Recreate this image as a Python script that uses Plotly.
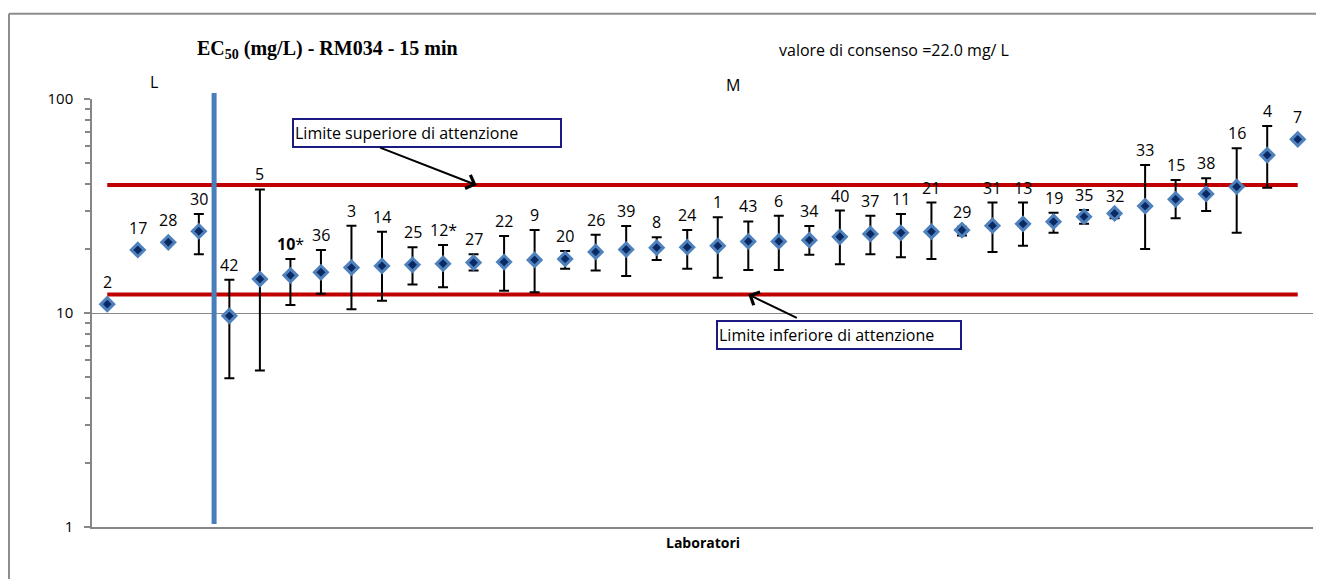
import math
import plotly.graph_objects as go

# ---- data ----
lab_ids = ["2", "17", "28", "30", "42", "5", "10*", "36", "3", "14", "25", "12*", "27", "22", "9",
           "20", "26", "39", "8", "24", "1", "43", "6", "34", "40", "37", "11", "21", "29", "31",
           "13", "19", "35", "32", "33", "15", "38", "16", "4", "7"]
ec50 = [11.0, 19.7, 21.4, 24.1, 9.7, 14.4, 15.0, 15.5, 16.3, 16.6, 16.8, 17.0, 17.2, 17.3, 17.7,
        17.9, 19.3, 19.8, 20.2, 20.3, 20.6, 21.6, 21.6, 21.9, 22.7, 23.4, 23.7, 24.0, 24.4, 25.6,
        26.1, 26.7, 28.2, 29.2, 31.6, 34.0, 36.0, 38.9, 54.7, 64.8]
upper_bound = [11.0, 19.7, 21.4, 29.0, 14.3, 37.8, 17.9, 19.7, 25.6, 24.0, 20.3, 20.8, 18.8, 22.9, 24.4,
               19.5, 23.2, 25.5, 22.6, 24.4, 28.0, 26.8, 28.5, 25.5, 30.1, 28.5, 29.0, 32.8, 25.3, 32.8,
               32.8, 29.4, 30.3, 30.0, 49.2, 41.8, 42.6, 58.8, 74.8, 64.8]
lower_bound = [11.0, 19.7, 21.4, 18.8, 4.95, 5.38, 10.9, 12.3, 10.4, 11.4, 13.6, 13.2, 15.8, 12.7, 12.5,
               16.1, 15.8, 14.9, 17.7, 16.1, 14.6, 15.9, 15.9, 18.7, 16.9, 18.8, 18.2, 17.9, 23.0, 19.3,
               20.6, 23.7, 26.1, 27.7, 19.9, 27.7, 30.0, 23.7, 38.5, 64.8]
n_group_L = 4          # labs in group L (the rest are group M)
consensus = 22.0
limit_upper = 39.6
limit_lower = 12.2

FONT = "Open Sans"
n = len(lab_ids)
xs = list(range(n))
err_plus = [u - v for u, v in zip(upper_bound, ec50)]
err_minus = [v - l for v, l in zip(ec50, lower_bound)]

fig = go.Figure()

# limit lines
fig.add_trace(go.Scatter(x=[xs[0], xs[-1]], y=[limit_upper, limit_upper], mode="lines",
                         line=dict(color="#c00000", width=4), hoverinfo="skip", showlegend=False))
fig.add_trace(go.Scatter(x=[xs[0], xs[-1]], y=[limit_lower, limit_lower], mode="lines",
                         line=dict(color="#c00000", width=4), hoverinfo="skip", showlegend=False))

# points with error bars
fig.add_trace(go.Scatter(
    x=xs, y=ec50, mode="markers",
    marker=dict(symbol="diamond", size=10, color="#0b2a63", line=dict(color="#4f81bd", width=3)),
    error_y=dict(type="data", symmetric=False, array=err_plus, arrayminus=err_minus,
                 color="black", thickness=2, width=5),
    showlegend=False,
))

annotations = []
for i, lab in enumerate(lab_ids):
    has_bar = err_plus[i] > 0.01
    txt = "<b>10</b>*" if lab == "10*" else lab
    annotations.append(dict(
        x=xs[i], y=math.log10(max(upper_bound[i], ec50[i])), xref="x", yref="y",
        text=txt, showarrow=False, xanchor="center", yanchor="bottom", yshift=2 if has_bar else 9,
        font=dict(family=FONT, size=16, color="black"),
    ))

# titles / texts
annotations += [
    dict(x=0.193, y=1.1145, xref="paper", yref="paper", showarrow=False,
         text="<b>EC<sub>50</sub> (mg/L) - RM034 - 15 min</b>", xanchor="center",
         font=dict(family="Liberation Serif", size=20, color="black"), yanchor="middle"),
    dict(x=0.657, y=1.1145, xref="paper", yref="paper", showarrow=False, xanchor="center",
         text=f"valore di consenso ={consensus:.1f} mg/ L",
         font=dict(family=FONT, size=16, color="black"), yanchor="middle"),
    dict(x=0.0508, y=1.04, xref="paper", yref="paper", showarrow=False, text="L", xanchor="center",
         font=dict(family=FONT, size=16, color="black"), yanchor="middle"),
    dict(x=0.525, y=1.033, xref="paper", yref="paper", showarrow=False, text="M", xanchor="center",
         font=dict(family=FONT, size=16, color="black"), yanchor="middle"),
    dict(x=0.5, y=-0.037, xref="paper", yref="paper", showarrow=False, text="<b>Laboratori</b>",
         xanchor="center", font=dict(family=FONT, size=14, color="black"), yanchor="middle"),
    # boxes
    dict(x=0.2744, y=0.9194, xref="paper", yref="paper", showarrow=False, xanchor="center",
         yanchor="middle", text="Limite superiore di attenzione", align="left", width=264, height=24,
         bordercolor="#1a1a80", borderwidth=2, borderpad=1, bgcolor="white",
         font=dict(family=FONT, size=16, color="black")),
    dict(x=0.6118, y=0.4486, xref="paper", yref="paper", showarrow=False, xanchor="center",
         yanchor="middle", text="Limite inferiore di attenzione", align="left", width=240, height=24,
         bordercolor="#1a1a80", borderwidth=2, borderpad=1, bgcolor="white",
         font=dict(family=FONT, size=16, color="black")),
    # arrows
    dict(x=12.1, y=math.log10(limit_upper), xref="x", yref="y", text="", showarrow=True,
         ax=-98, ay=-38, arrowhead=4, arrowsize=1.4, arrowwidth=2, arrowcolor="black"),
    dict(x=21.0, y=math.log10(limit_lower), xref="x", yref="y", text="", showarrow=True,
         ax=50, ay=24, arrowhead=4, arrowsize=1.4, arrowwidth=2, arrowcolor="black"),
]

shapes = [
    # group separator
    dict(type="line", xref="x", yref="paper", x0=n_group_L - 0.5, x1=n_group_L - 0.5,
         y0=0.007, y1=1.014, line=dict(color="#4a7ebb", width=5)),
    # outer frame (left and top edges; the rest lies outside the picture)
    dict(type="line", xref="paper", yref="paper", x0=-0.068, x1=-0.068, y0=-0.3, y1=1.199,
         line=dict(color="#8c8c8c", width=2), layer="below"),
    dict(type="line", xref="paper", yref="paper", x0=-0.068, x1=1.05, y0=1.199, y1=1.199,
         line=dict(color="#8c8c8c", width=2), layer="below"),
]

minor_vals = [k * 10 ** d for d in (0, 1) for k in range(2, 10)]

fig.update_layout(
    width=1308, height=571,
    margin=dict(l=84, r=3, t=91, b=52),
    paper_bgcolor="white", plot_bgcolor="white",
    annotations=annotations, shapes=shapes,
    showlegend=False,
    xaxis=dict(range=[-0.5, n - 0.5], showticklabels=False, ticks="", showgrid=False,
               zeroline=False, showline=True, linecolor="#868686", linewidth=2),
    yaxis=dict(type="log", range=[0, 2], tickvals=[1, 10, 100], ticktext=["1", "10", "100"],
               ticks="outside", ticklen=6, tickcolor="#868686", tickwidth=1.5,
               ticklabelstandoff=8,
               tickfont=dict(family=FONT, size=15, color="black"),
               showgrid=True, gridcolor="#868686", gridwidth=1,
               showline=True, linecolor="#868686", linewidth=1.5, zeroline=False,
               minor=dict(tickvals=minor_vals, ticks="outside", ticklen=5, tickcolor="#868686",
                          tickwidth=1.5, showgrid=False)),
)

fig.write_html("out.html")
